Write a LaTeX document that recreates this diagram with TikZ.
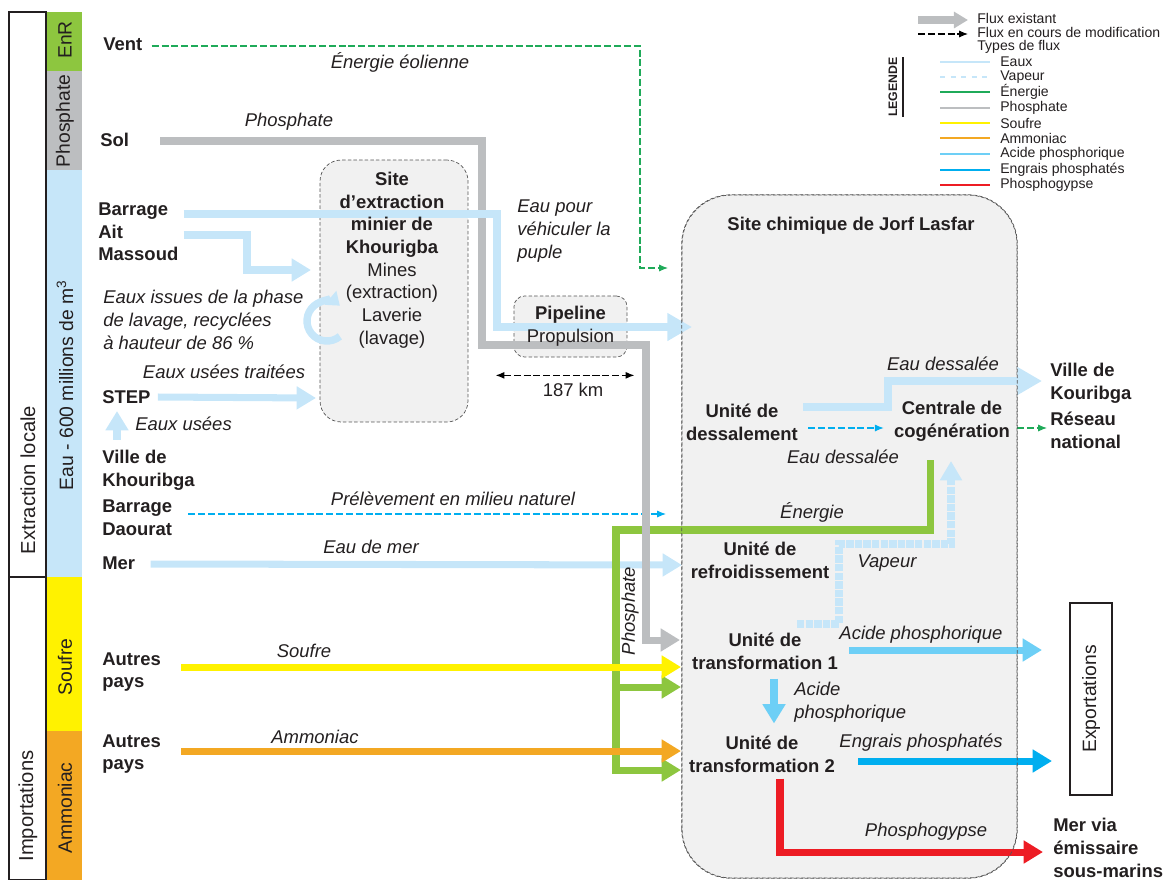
\documentclass[tikz,border=0pt]{standalone}
\usepackage{fontspec}
\setmainfont{Liberation Sans}
\usepackage{xcolor}
\usepackage{tikz}
\usetikzlibrary{arrows.meta}

\definecolor{txt}{RGB}{35,31,32}
\definecolor{eau}{RGB}{198,230,249}
\definecolor{phos}{RGB}{188,190,192}
\definecolor{enr}{RGB}{141,198,63}
\definecolor{eol}{RGB}{31,170,89}
\definecolor{soufre}{RGB}{255,242,0}
\definecolor{ammo}{RGB}{243,168,35}
\definecolor{acide}{RGB}{109,207,246}
\definecolor{engrais}{RGB}{0,174,239}
\definecolor{gypse}{RGB}{237,28,36}
\definecolor{boxfill}{RGB}{241,241,241}
\definecolor{boxline}{RGB}{85,85,85}

\pgfdeclarelayer{boxes}
\pgfdeclarelayer{flows}
\pgfsetlayers{boxes,flows,main}

\tikzset{
  src/.style={font=\fontsize{10.5}{12.9}\selectfont\bfseries, text=txt, align=left, anchor=west, inner sep=0pt},
  unit/.style={font=\fontsize{10.5}{12.9}\selectfont\bfseries, text=txt, align=center, inner sep=0pt},
  flowtxt/.style={font=\fontsize{10.5}{12.9}\selectfont\itshape, text=txt, inner sep=0pt},
  plain/.style={font=\fontsize{10.5}{12.9}\selectfont, text=txt, align=center, inner sep=0pt},
  band/.style={font=\fontsize{11}{13}\selectfont, text=txt, rotate=90, inner sep=0pt},
  legtxt/.style={font=\fontsize{8}{9}\selectfont, text=txt, anchor=west, inner sep=0pt},
  site/.style={draw=boxline, dash pattern=on 2pt off 1.2pt, fill=boxfill, inner sep=0pt},
  flow/.style={line width=4pt, -{Triangle[length=11pt,width=12.5pt]}},
  bigflow/.style={line width=5pt, -{Triangle[length=14pt,width=15pt]}},
  change/.style={line width=0.6pt, dash pattern=on 4pt off 1.6pt, -{Latex[length=5pt,width=4pt]}},
  vapeur/.style={line width=4.5pt, dash pattern=on 4.2pt off 0.7pt, -{Triangle[length=11pt,width=12pt]}},
}

\begin{document}
\begin{tikzpicture}[x=0.02cm, y=-0.02cm]
\useasboundingbox (0,0) rectangle (1169,880);

% bandeau de gauche
\draw[txt, line width=0.6pt] (9,12) rectangle (46,577);
\draw[txt, line width=0.6pt] (9,577) rectangle (46,879.5);
\fill[enr] (47,12) rectangle (82,71);
\fill[phos] (47,71) rectangle (82,170);
\fill[eau] (47,170) rectangle (82,577);
\fill[soufre] (47,577) rectangle (82,731);
\fill[ammo] (47,731) rectangle (82,880);
\node[band, font=\fontsize{11.5}{13}\selectfont] (extraction) at (28,480) {Extraction locale};
\node[band, font=\fontsize{11.5}{13}\selectfont] (import) at (28,806) {Importations};
\node[band] (bEnr) at (65,40) {EnR};
\node[band] (bPhos) at (65,121) {Phosphate};
\node[band] (bEau) at (65,385) {Eau - 600 millions de m\textsuperscript{3}};
\node[band] (bSoufre) at (65,667) {Soufre};
\node[band] (bAmmo) at (65,808) {Ammoniac};

% sources
\node[src] (vent) at (103,44) {Vent};
\node[src] (sol) at (100,140) {Sol};
\node[src] (ait) at (98,232) {Barrage\\Ait\\Massoud};
\node[src] (step) at (102,397) {STEP};
\node[src] (villekh) at (102,470) {Ville de\\Khouribga};
\node[src] (daourat) at (102,518) {Barrage\\Daourat};
\node[src] (mer) at (102,563) {Mer};
\node[src] (paysA) at (102,672) {Autres\\pays};
\node[src] (paysB) at (102,754) {Autres\\pays};

% sites
\begin{pgfonlayer}{boxes}
\node[site, rounded corners=12pt, minimum width=2.96cm, minimum height=5.24cm] (khour) at (394,291) {};
\node[site, rounded corners=6pt, minimum width=2.26cm, minimum height=1.22cm] (pipe) at (570.5,326.5) {};
\node[site, rounded corners=28pt, minimum width=6.7cm, minimum height=13.66cm] (jorf) at (849.5,536.5) {};
\end{pgfonlayer}
\node[plain] (khourTxt) at (392,260) {\textbf{Site}\\\textbf{d\symbol{39}extraction}\\\textbf{minier de}\\\textbf{Khourigba}\\Mines\\(extraction)\\Laverie\\(lavage)};
\node[plain] (pipeTxt) at (pipe) {\textbf{Pipeline}\\Propulsion};
\node[unit] (jorfTxt) at (851,226) {Site chimique de Jorf Lasfar};

% unites
\node[unit] (dessal) at (742,422) {Unité de\\dessalement};
\node[unit] (cogen) at (952,421) {Centrale de\\cogénération};
\node[unit] (refroid) at (760,560) {Unité de\\refroidissement};
\node[unit] (transfoA) at (765,651) {Unité de\\transformation 1};
\node[unit] (transfoB) at (762,754) {Unité de\\transformation 2};

% destinations
\node[src] (villeko) at (1050,383) {Ville de\\Kouribga};
\node[src] (reseau) at (1050,430) {Réseau\\national};
\node[src] (mervia) at (1053,848) {Mer via\\émissaire\\sous-marins};
\node[draw=txt, line width=1pt, minimum width=0.84cm, minimum height=3.84cm, inner sep=0pt] (export) at (1091,699) {};
\node[band] (exportTxt) at (export) {Exportations};

% etiquettes des flux
\node[flowtxt] (lEol) at (400,62) {Énergie éolienne};
\node[flowtxt] (lPhos) at (289,122) {Phosphate};
\node[flowtxt, align=left, anchor=west] (lRecyc) at (103,320) {Eaux issues de la phase\\de lavage, recyclées\\à hauteur de 86~\%};
\node[flowtxt] (lStep) at (224,372) {Eaux usées traitées};
\node[flowtxt, anchor=west] (lUsees) at (135,424) {Eaux usées};
\node[flowtxt, align=left, anchor=west] (lVehic) at (517,231) {Eau pour\\véhiculer la\\puple};
\node[flowtxt] (lPrel) at (453,499) {Prélèvement en milieu naturel};
\node[flowtxt] (lMer) at (371,547) {Eau de mer};
\node[flowtxt] (lSoufre) at (304,651) {Soufre};
\node[flowtxt] (lAmmo) at (315,737) {Ammoniac};
\node[flowtxt, rotate=90] (lPhosB) at (630,611) {Phosphate};
\node[flowtxt] (lDessA) at (943,364) {Eau dessalée};
\node[flowtxt] (lDessB) at (843,457) {Eau dessalée};
\node[flowtxt] (lEnr) at (812,512) {Énergie};
\node[flowtxt] (lVap) at (887,563) {Vapeur};
\node[flowtxt] (lAcide) at (921,635) {Acide phosphorique};
\node[flowtxt, align=left, anchor=west] (lAcideB) at (794,702) {Acide\\phosphorique};
\node[flowtxt] (lEngrais) at (921,743) {Engrais phosphatés};
\node[flowtxt] (lGypse) at (926,832) {Phosphogypse};
\node[plain] (lKm) at (573,390) {187 km};

% extremites des flux
\coordinate (ventIn) at (668,268);
\coordinate (pipeIn) at (692,327);
\coordinate (mineIn) at (311,270);
\coordinate (stepIn) at (316,398);
\coordinate (useesLow) at (117,440);
\coordinate (useesHigh) at (117,411);
\coordinate (daouratIn) at (666,514);
\coordinate (merIn) at (682,565);
\coordinate (phosIn) at (680,640);
\coordinate (soufreIn) at (681,667);
\coordinate (ammoIn) at (681,751);
\coordinate (enrA) at (681,687);
\coordinate (enrB) at (681,770);
\coordinate (cogenLow) at (930,460);
\coordinate (vapStart) at (797,624);
\coordinate (vapIn) at (951,461);
\coordinate (acideOut) at (1042,650);
\coordinate (engraisOut) at (1052,761);
\coordinate (gypseOut) at (1043,852);

\begin{pgfonlayer}{flows}
\draw[eol, change] ([shift={(9,2)}]vent.east) -| (640,268) -- (ventIn);
\draw[eau, flow] ([shift={(15,1)}]mer.east) -- (merIn);
\draw[engrais, change] ([shift={(16,-4)}]daourat.east) -- (daouratIn);
\draw[enr, flow] (cogenLow) |- (616,530) |- (enrB);
\draw[enr, flow] (616,687) -- (enrA);
\draw[soufre, flow] ([shift={(20,-5)}]paysA.east) -- (soufreIn);
\draw[ammo, flow] ([shift={(20,-3)}]paysB.east) -- (ammoIn);
\draw[phos, flow] ([shift={(31,1)}]sol.east) -| (482,345) -| (646,640) -- (phosIn);
\draw[eau, bigflow] ([shift={(5,-18)}]ait.east) -| (497,327) -- (pipeIn);
\draw[eau, flow] ([shift={(5,3)}]ait.east) -| (247,270) -- (mineIn);
\draw[eau, line width=4.2pt, -{Triangle[length=7pt,width=10pt]}] (327,321) ++(50:20) arc[start angle=50, end angle=310, radius=20];
\draw[eau, flow] ([xshift=4pt]step.east) -- (stepIn);
\draw[eau, flow] (useesLow) -- (useesHigh);
\draw[<->, >={Latex[length=5pt,width=4pt]}, line width=0.6pt, dash pattern=on 4pt off 1.6pt] ([shift={(-18,18)}]pipe.south west) -- ([shift={(7,18)}]pipe.south east);
% site chimique
\draw[eau, bigflow] ([shift={(5,-15)}]dessal.east) -| (888,381) -- ([shift={(-8,-2)}]villeko.west);
\draw[engrais, change] ([shift={(10,6)}]dessal.east) -- ([shift={(-10,7)}]cogen.west);
\draw[eol, change] ([shift={(7,7)}]cogen.east) -- ([shift={(-3,-2)}]reseau.west);
\draw[eau, vapeur] (vapStart) -| (839,544) -| (vapIn);
\draw[acide, flow] ([shift={(11,-1)}]transfoA.east) -- (acideOut);
\draw[acide, flow] ([shift={(9,9)}]transfoA.south) -- ([shift={(12,-12)}]transfoB.north);
\draw[engrais, flow] ([shift={(23,7)}]transfoB.east) -- (engraisOut);
\draw[gypse, flow] ([shift={(18,6)}]transfoB.south) |- (gypseOut);
\end{pgfonlayer}
\draw[boxline, dash pattern=on 2pt off 1.2pt, rounded corners=28pt] (jorf.south west) rectangle (jorf.north east);

% legende
\draw[phos, line width=4pt, -{Triangle[length=8pt,width=9pt]}] (918,20) -- (968,20);
\draw[change, black] (918,34) -- (968,34);
\node[legtxt] (legA) at (977,18) {Flux existant};
\node[legtxt] (legB) at (977,32) {Flux en cours de modification};
\node[legtxt] (legC) at (977,47) {Types de flux};
\node[legtxt, anchor=center, rotate=90, font=\fontsize{7}{8}\selectfont\bfseries] (legTitle) at (893,87) {LEGENDE};
\draw[txt, line width=0.8pt] (903,57) -- (903,117);
\foreach \yy/\col/\sty/\lab [count=\i] in {62/eau/solid/Eaux, 77/eau/dashed/Vapeur, 92/eol/solid/Énergie, 108/phos/solid/Phosphate, 123/soufre/solid/Soufre, 138/ammo/solid/Ammoniac, 154/acide/solid/Acide phosphorique, 170/engrais/solid/Engrais phosphatés, 185/gypse/solid/Phosphogypse}{
  \draw[\col, line width=1.2pt, \sty] (940,\yy) -- (990,\yy);
  \node[legtxt] (leg\i) at (1000,\yy) {\lab};
}
\end{tikzpicture}
\end{document}
